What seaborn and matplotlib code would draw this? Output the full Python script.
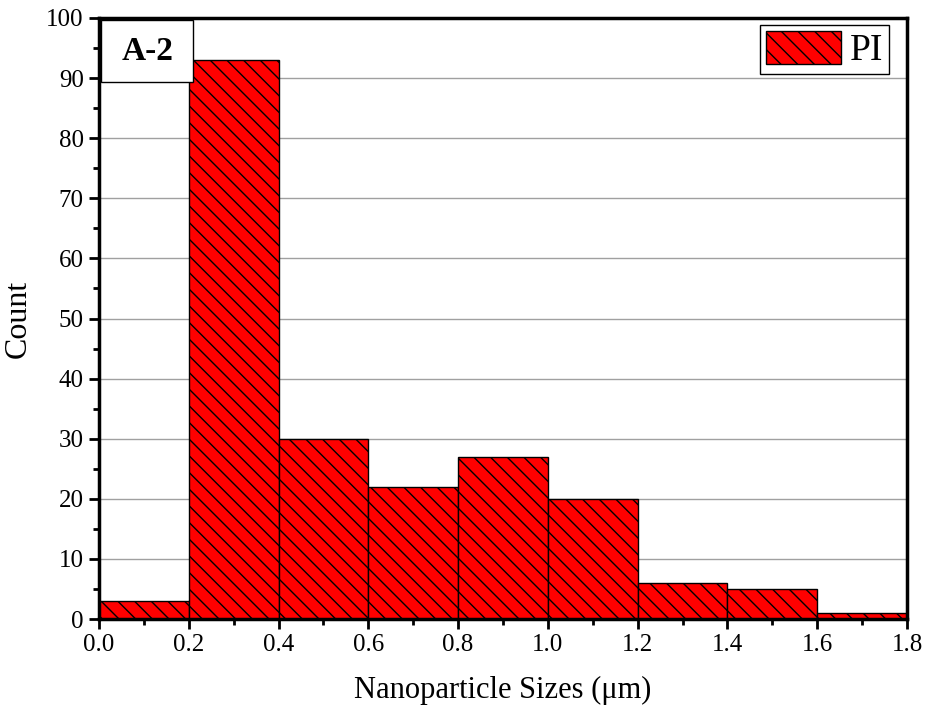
import matplotlib
matplotlib.use("Agg")
import matplotlib.pyplot as plt
import seaborn as sns
import numpy as np
from matplotlib.patches import Rectangle, Patch
from matplotlib.ticker import MultipleLocator

bin_edges = [0.0, 0.2, 0.4, 0.6, 0.8, 1.0, 1.2, 1.4, 1.6, 1.8]
counts = [3, 93, 30, 22, 27, 20, 6, 5, 1]
centers = [(a + b) / 2 for a, b in zip(bin_edges[:-1], bin_edges[1:])]
x_ticks = [0.0, 0.2, 0.4, 0.6, 0.8, 1.0, 1.2, 1.4, 1.6, 1.8]
y_ticks = list(range(0, 101, 10))

sns.set_theme(style="white")
plt.rcParams['font.family'] = ['Liberation Serif', 'DejaVu Serif']
plt.rcParams['hatch.linewidth'] = 1.0
plt.rcParams['hatch.color'] = 'black'
plt.rcParams['text.color'] = 'black'
plt.rcParams['axes.labelcolor'] = 'black'
plt.rcParams['xtick.color'] = 'black'
plt.rcParams['ytick.color'] = 'black'

fig = plt.figure(figsize=(9.27, 7.09), dpi=100)
ax = fig.add_axes([99/927, 1 - 619/709, 808/927, 601/709])

ax.yaxis.grid(True, color='#a0a0a0', linewidth=1.0, zorder=0)
ax.set_axisbelow(True)

sns.histplot(x=centers, weights=counts, bins=bin_edges, ax=ax,
             color='#ff0000', alpha=1.0, edgecolor='black', linewidth=1.0, zorder=2)
for p in ax.patches:
    p.set_hatch('\\\\')
    p.set_facecolor('#ff0000')
    p.set_edgecolor('black')

ax.set_xlim(0, 1.8)
ax.set_ylim(0, 100)
ax.set_xticks(x_ticks)
ax.set_xticklabels([f"{v:.1f}" for v in x_ticks])
ax.set_yticks(y_ticks)
ax.xaxis.set_minor_locator(MultipleLocator(0.1))
ax.yaxis.set_minor_locator(MultipleLocator(5))
ax.tick_params(which='major', direction='out', length=7, width=2, labelsize=18,
               bottom=True, left=True, colors='black', pad=4)
ax.tick_params(which='minor', direction='out', length=4, width=2,
               bottom=True, left=True, colors='black')
for s in ax.spines.values():
    s.set_linewidth(2.5)
    s.set_color('black')

ax.set_xlabel("Nanoparticle Sizes (μm)", fontsize=22, labelpad=14, color='black')
ax.set_ylabel("Count", fontsize=23, labelpad=10, color='black')

# A-2 box
ax.add_patch(Rectangle((0.003, 0.893), 0.113, 0.103, transform=ax.transAxes,
                       facecolor='white', edgecolor='black', linewidth=1.0, zorder=5))
ax.text(0.0595, 0.944, "A-2", transform=ax.transAxes, fontsize=24, fontweight='bold',
        ha='center', va='center', zorder=6, color='black')

handle = Patch(facecolor='#ff0000', edgecolor='black', hatch='\\\\', linewidth=1.0)
leg = ax.legend([handle], ["PI"], loc='upper right',
                bbox_to_anchor=((889 - 99) / 808, (619 - 25) / 601),
                fontsize=27, frameon=True,
                fancybox=False, edgecolor='black', framealpha=1,
                handlelength=2.0, handleheight=1.0, borderpad=0.15,
                handletextpad=0.25, borderaxespad=0.0)
leg.get_frame().set_linewidth(1.0)
for t in leg.get_texts():
    t.set_color('black')

fig.savefig("out.png", dpi=100)
